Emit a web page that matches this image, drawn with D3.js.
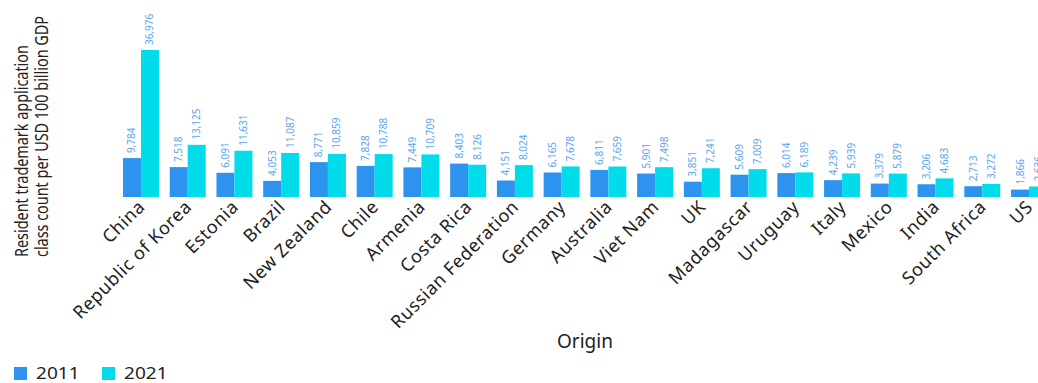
<!DOCTYPE html>
<html><head><meta charset="utf-8">
<script src="https://cdn.jsdelivr.net/npm/d3@7"></script>
<style>body{margin:0;background:#fff;overflow:hidden}svg{display:block;font-family:"Noto Sans","Open Sans",sans-serif}</style>
</head><body><svg id="c" width="1038" height="383"></svg>
<script>
const categories = ["China","Republic of Korea","Estonia","Brazil","New Zealand","Chile","Armenia","Costa Rica","Russian Federation","Germany","Australia","Viet Nam","UK","Madagascar","Uruguay","Italy","Mexico","India","South Africa","US"];
const series = ["2011","2021"];
const values2011 = [9784,7518,6091,4053,8771,7828,7449,8403,4151,6165,6811,5901,3851,5609,6014,4239,3379,3206,2713,1866];
const values2021 = [36976,13125,11631,11087,10859,10788,10709,8126,8024,7678,7659,7498,7241,7009,6189,5939,5879,4683,3272,2636];
const colors = ["#2e93ee","#00dcea"];

const svg = d3.select("#c");
const baseY = 197, topY = 50;
const x0 = d3.scaleBand().domain(categories).range([117.6, 1052.4]).paddingInner(0.23).paddingOuter(0.115);
const x1 = d3.scaleBand().domain(series).range([0, x0.bandwidth()]);
const y = d3.scaleLinear().domain([0, 36976]).range([baseY, topY]);
const color = d3.scaleOrdinal().domain(series).range(colors);

const data = categories.map((c,i)=>({c, vals:[{s:"2011",v:values2011[i]},{s:"2021",v:values2021[i]}]}));
const g = svg.selectAll("g.grp").data(data).join("g").attr("transform", d=>`translate(${x0(d.c)},0)`);
g.selectAll("rect").data(d=>d.vals).join("rect")
  .attr("x", d=>x1(d.s)).attr("width", x1.bandwidth())
  .attr("y", d=>y(d.v)).attr("height", d=>baseY-y(d.v)).attr("fill", d=>color(d.s));
g.selectAll("text").data(d=>d.vals).join("text")
  .attr("transform", d=>`translate(${x1(d.s)+x1.bandwidth()/2+3.5},${y(d.v)-5}) rotate(-90)`)
  .attr("font-size", 10).attr("fill", "#5aa5ee").text(d=>d3.format(",")(d.v));

const xAxis = svg.append("g").attr("transform", `translate(0,${baseY})`).call(d3.axisBottom(x0).tickSize(0).tickPadding(0));
xAxis.select(".domain").remove();
xAxis.selectAll("text").attr("font-size", 18).attr("letter-spacing", 0.6).attr("fill","#222").attr("font-family","Noto Sans, Open Sans, sans-serif")
  .attr("text-anchor","end").attr("dy",null).attr("y",0)
  .attr("transform","translate(5,11) rotate(-45)");

svg.append("text").attr("x", 585).attr("y", 348).attr("text-anchor","middle").attr("font-size",19).attr("fill","#222").text("Origin");

const yt = svg.append("text").attr("transform","translate(0,257) scale(1.17,0.9) rotate(-90)").attr("font-size",16).attr("fill","#222");
yt.append("tspan").attr("x",0).attr("y",24.3).text("Resident trademark application");
yt.append("tspan").attr("x",0).attr("y",41.3).text("class count per USD 100 billion GDP");

const lg = svg.append("g").selectAll("g").data(series).join("g").attr("transform",(d,i)=>`translate(${14+i*88},367)`);
lg.append("rect").attr("width",13).attr("height",13).attr("fill",d=>color(d));
lg.append("text").attr("transform","translate(22,11.5) scale(1.12,1)").attr("font-size",17).attr("fill","#222").text(d=>d);
</script></body></html>
